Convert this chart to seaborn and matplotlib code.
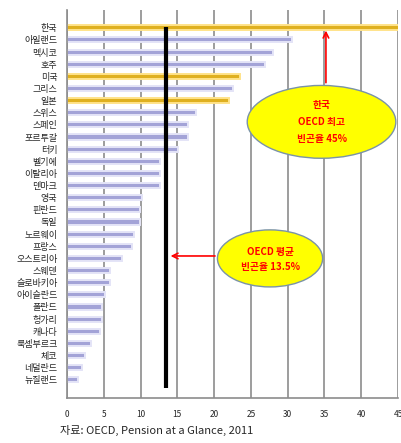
import numpy as np
import pandas as pd
import matplotlib
matplotlib.use("Agg")
import matplotlib.pyplot as plt
from matplotlib.patches import Ellipse
import seaborn as sns

# OECD old-age income poverty (%)
countries = ["한국", "아일랜드", "멕시코", "호주", "미국", "그리스", "일본", "스위스",
             "스페인", "포르투갈", "터키", "벨기에", "이탈리아", "덴마크", "영국",
             "핀란드", "독일", "노르웨이", "프랑스", "오스트리아", "스웨덴",
             "슬로바키아", "아이슬란드", "폴란드", "헝가리", "캐나다", "룩셈부르크",
             "체코", "네덜란드", "뉴질랜드"]
poverty = [45.1, 30.6, 28.0, 26.9, 23.5, 22.5, 22.0, 17.6,
           16.5, 16.5, 15.1, 12.7, 12.7, 12.7, 10.2,
           9.9, 9.9, 9.1, 8.9, 7.5, 5.9,
           5.9, 5.1, 4.8, 4.8, 4.5, 3.2,
           2.4, 2.1, 1.5]
highlight = ["한국", "미국", "일본"]
oecd_avg = 13.5
xticks = [0, 5, 10, 15, 20, 25, 30, 35, 40, 45]

ORANGE = "#FFC000"
PURPLE = "#9A9AE0"

df = pd.DataFrame({"country": countries, "poverty": poverty})
pal = {c: (ORANGE if c in highlight else PURPLE) for c in countries}

sns.set_style("white")
plt.rcParams["font.family"] = ["Noto Sans CJK KR", "DejaVu Sans"]

fig = plt.figure(figsize=(4.02, 4.43), dpi=100)
ax = fig.add_axes([0.1667, 0.1016, 0.8234, 0.8754])

sns.barplot(data=df, x="poverty", y="country", hue="country", palette=pal,
            orient="h", width=0.42, legend=False, ax=ax)

for patch, c in zip(ax.patches, countries):
    if c in highlight:
        patch.set_edgecolor("#FFE38A")
    else:
        patch.set_edgecolor("#E4E4F7")
    patch.set_linewidth(1.4)

n = len(countries)
ax.set_xlim(0, 45)
ax.set_ylim(n - 0.35, -1.45)
ax.set_axisbelow(True)
ax.xaxis.grid(True, color="#8c8c8c", linewidth=1.2)
ax.yaxis.grid(False)
ax.set_xticks(xticks)
ax.set_xticklabels([str(t) for t in xticks], fontsize=6)
ax.tick_params(axis="x", length=4, width=1.2, color="#8c8c8c", pad=5)

ax.set_yticks(range(n))
ax.set_yticklabels(countries, fontsize=6.5, fontweight="medium")
ax.tick_params(axis="y", which="major", length=0, pad=7)
ax.set_yticks(np.arange(-1.5, n, 1.0) + 1.0, minor=True)
ax.tick_params(axis="y", which="minor", length=3, width=1, color="#8c8c8c")
ax.set_xlabel("")
ax.set_ylabel("")

for s in ["top", "right"]:
    ax.spines[s].set_visible(False)
for s in ["left", "bottom"]:
    ax.spines[s].set_color("#8c8c8c")
    ax.spines[s].set_linewidth(1.2)

# OECD average line
ax.vlines(oecd_avg, -0.1, n - 0.35, color="black", linewidth=3, zorder=4)

# callouts
e1 = Ellipse((34.6, 7.75), 20.2, 6.0, facecolor="#FFFF00", edgecolor="#7a93a8",
             linewidth=1, zorder=5)
ax.add_patch(e1)
ax.text(34.6, 7.75, "한국\nOECD 최고\n빈곤율 45%", color="red", fontsize=7,
        fontweight="bold", ha="center", va="center", linespacing=1.9, zorder=6)
ax.annotate("", xy=(35.2, 0.0), xytext=(35.2, 4.75),
            arrowprops=dict(arrowstyle="->", color="red", lw=1.2), zorder=6)

e2 = Ellipse((27.6, 19.0), 14.3, 4.7, facecolor="#FFFF00", edgecolor="#7a93a8",
             linewidth=1, zorder=5)
ax.add_patch(e2)
ax.text(27.6, 19.1, "OECD 평균\n빈곤율 13.5%", color="red", fontsize=7,
        fontweight="bold", ha="center", va="center", linespacing=1.7, zorder=6)
ax.annotate("", xy=(oecd_avg + 0.2, 18.8), xytext=(20.5, 18.8),
            arrowprops=dict(arrowstyle="->", color="red", lw=1.2), zorder=6)

fig.text(0.149, 0.029, "자료: OECD, Pension at a Glance, 2011", fontsize=8,
         ha="left", va="center")

fig.savefig("out.png", dpi=100)
